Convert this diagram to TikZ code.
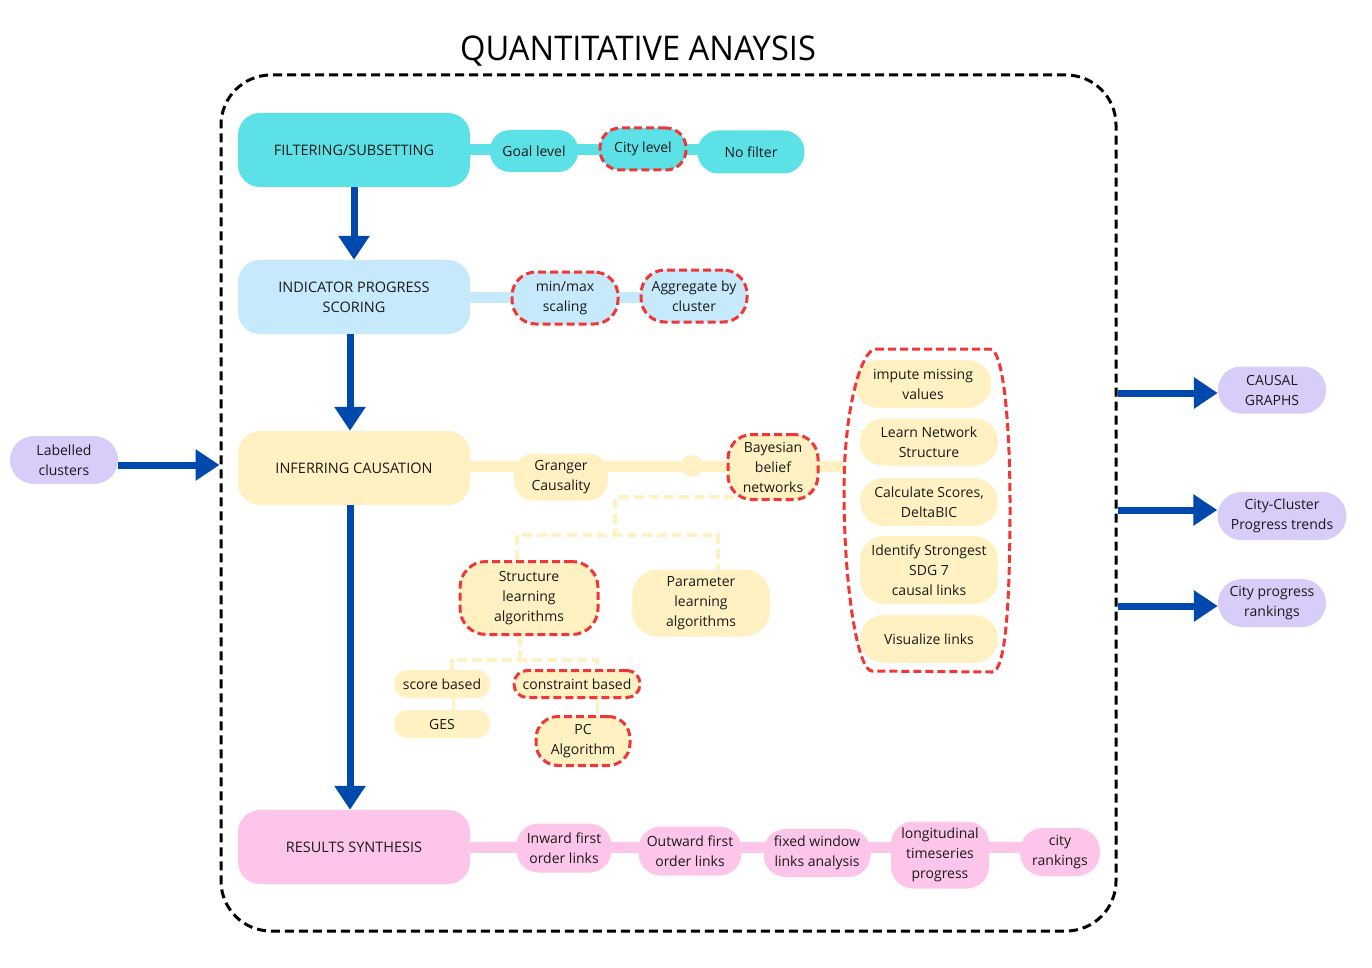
\documentclass[tikz,border=0pt]{standalone}
\usepackage{fontspec}
\setmainfont{Open Sans}
\usetikzlibrary{arrows.meta,backgrounds}
\definecolor{cyanc}{HTML}{5CE1E6}
\definecolor{lblue}{HTML}{C6E9FC}
\definecolor{yellowc}{HTML}{FFF1C1}
\definecolor{pinkc}{HTML}{FEC5EA}
\definecolor{purpc}{HTML}{D8CCF9}
\definecolor{arrblue}{HTML}{0049AC}
\definecolor{redd}{HTML}{F23636}
\definecolor{txt}{HTML}{1A1A1A}
\begin{document}
\begin{tikzpicture}[x=1pt,y=-1pt,
  box/.style={rounded corners=22pt, minimum width=232pt, minimum height=74pt, align=center,
    font=\fontsize{14.5}{20}\selectfont, inner sep=0pt, text=txt},
  pill/.style={rounded corners=20pt, align=center, inner sep=0pt, text=txt,
    font=\fontsize{14}{20}\selectfont},
  reddash/.style={draw=redd, line width=3pt, dash pattern=on 8pt off 4pt},
  band/.style={line width=11pt},
  bigarrow/.style={draw=arrblue, line width=7pt, -{Triangle[length=24pt,width=30pt]}},
  tree/.style={draw=yellowc, line width=3.5pt, dash pattern=on 10pt off 5pt},
  twig/.style={draw=yellowc, line width=3pt},
]
\useasboundingbox (0,0) rectangle (1372,968);

% title
\node[font=\fontsize{34}{38}\selectfont, text=black] (title) at (638,51) {\scalebox{0.96}[1]{QUANTITATIVE ANAYSIS}};

% frame
\node[draw=black, line width=3pt, dash pattern=on 9pt off 5pt, rounded corners=50pt,
  minimum width=895pt, minimum height=856pt, inner sep=0pt] (frame) at (668.5,503) {};

% row 1
\node[box, fill=cyanc] (filt) at (354,150) {FILTERING/SUBSETTING};
\node[pill, fill=cyanc, minimum width=88pt, minimum height=42pt] (goal) at (534,151) {Goal level};
\node[pill, fill=cyanc, reddash, minimum width=86pt, minimum height=42pt] (city) at (643,149) {City level};
\node[pill, fill=cyanc, minimum width=107pt, minimum height=43pt, rounded corners=21pt] (nof) at (751,152) {No filter};

% row 2
\node[box, fill=lblue] (ind) at (354,297) {INDICATOR PROGRESS\\SCORING};
\node[pill, fill=lblue, reddash, minimum width=106pt, minimum height=52pt, rounded corners=24pt] (minmax) at (565,298) {min/max\\scaling};
\node[pill, fill=lblue, reddash, minimum width=106pt, minimum height=52pt, rounded corners=24pt] (agg) at (694,296) {Aggregate by\\cluster};

% row 3
\node[box, fill=yellowc] (infer) at (354,468) {INFERRING CAUSATION};
\node[pill, fill=yellowc, minimum width=94pt, minimum height=47pt] (granger) at (561,477) {Granger\\Causality};
\node[circle, fill=yellowc, minimum size=22pt, inner sep=0pt] (dot) at (692,466) {};
\node[pill, fill=yellowc, reddash, minimum width=90pt, minimum height=65pt, rounded corners=24pt] (bayes) at (773,467) {Bayesian\\belief\\networks};

\node[pill, fill=yellowc, minimum width=137pt, minimum height=48pt, rounded corners=24pt] (imp) at (923,384) {impute missing\\values};
\node[pill, fill=yellowc, minimum width=138pt, minimum height=47pt, rounded corners=23pt] (learn) at (929,442) {Learn Network\\Structure};
\node[pill, fill=yellowc, minimum width=138pt, minimum height=48pt, rounded corners=24pt] (calc) at (929,502) {Calculate Scores,\\DeltaBIC};
\node[pill, fill=yellowc, minimum width=138pt, minimum height=68pt, rounded corners=24pt] (ident) at (929,570) {Identify Strongest\\SDG 7\\causal links};
\node[pill, fill=yellowc, minimum width=138pt, minimum height=48pt, rounded corners=24pt] (vis) at (929,639) {Visualize links};
% group outline (anchor node + curved dashed outline)
\node[minimum width=166pt, minimum height=323pt, inner sep=0pt] (grp) at (927,510) {};
\draw[reddash] (876,349) -- (990,349)
  .. controls (1003,349) and (1010,420) .. (1010,505)
  .. controls (1010,600) and (1006,672) .. (992,672)
  -- (872,671)
  .. controls (858,671) and (844,590) .. (844,490)
  .. controls (844,410) and (861,349) .. (876,349) -- cycle;

\node[pill, fill=yellowc, reddash, minimum width=138pt, minimum height=73pt, rounded corners=26pt] (struct) at (529,598) {Structure\\learning\\algorithms};
\node[pill, fill=yellowc, minimum width=138pt, minimum height=67pt, rounded corners=26pt] (param) at (701,603) {Parameter\\learning\\algorithms};
\node[pill, fill=yellowc, minimum width=96pt, minimum height=28pt, rounded corners=13pt] (score) at (442,684) {score based};
\node[pill, fill=yellowc, minimum width=96pt, minimum height=28pt, rounded corners=13pt] (ges) at (442,724) {GES};
\node[pill, fill=yellowc, reddash, minimum width=126pt, minimum height=27pt, rounded corners=13pt] (constr) at (577,684) {constraint based};
\node[pill, fill=yellowc, reddash, minimum width=94pt, minimum height=49pt, rounded corners=22pt] (pc) at (583,741) {PC\\Algorithm};

% row 4
\node[box, fill=pinkc] (res) at (354,847) {RESULTS SYNTHESIS};
\node[pill, fill=pinkc, minimum width=95pt, minimum height=49pt, rounded corners=22pt] (inw) at (564,848) {Inward first\\order links};
\node[pill, fill=pinkc, minimum width=103pt, minimum height=49pt, rounded corners=22pt] (outw) at (690,851) {Outward first\\order links};
\node[pill, fill=pinkc, minimum width=107pt, minimum height=48pt, rounded corners=22pt] (fixw) at (817,853) {fixed window\\links analysis};
\node[pill, fill=pinkc, minimum width=98pt, minimum height=67pt, rounded corners=22pt] (longi) at (940,855) {longitudinal\\timeseries\\progress};
\node[pill, fill=pinkc, minimum width=80pt, minimum height=48pt, rounded corners=23pt] (crank) at (1060,852) {city\\rankings};

% outside
\node[pill, fill=purpc, minimum width=108pt, minimum height=48pt, rounded corners=24pt] (lab) at (64,460) {Labelled\\clusters};
\node[pill, fill=purpc, minimum width=108pt, minimum height=47pt, rounded corners=23pt] (causal) at (1272,390) {CAUSAL\\GRAPHS};
\node[pill, fill=purpc, minimum width=129pt, minimum height=48pt, rounded corners=24pt] (ccp) at (1282,516) {City-Cluster\\Progress trends};
\node[pill, fill=purpc, minimum width=108pt, minimum height=48pt, rounded corners=24pt] (cpr) at (1272,603) {City progress\\rankings};

% background and bands (behind)
\begin{scope}[on background layer]
\fill[white] (0,0) rectangle (1372,968);
\draw[band, cyanc] (filt) -- (nof.center |- filt);
\draw[band, lblue] (ind.center) -- (agg.center |- ind);
\draw[band, yellowc] (infer.east |- dot) -- (grp.west |- dot);
\draw[band, pinkc] (res.center) -- (crank.center |- res);
\end{scope}

\coordinate (j1) at (615,535);
\coordinate (j2) at (520,660);
\draw[tree] ([xshift=7pt,yshift=4pt]bayes.south west) -| (j1);
\draw[tree] ([xshift=-12pt]struct.north) |- (j1) -| ([xshift=17pt]param.north);
\draw[tree] ([xshift=-9pt]struct.south) -- (j2);
\draw[tree] ([xshift=10pt]score.north) |- (j2) -| ([xshift=20pt]constr.north);
\draw[twig] ([xshift=11pt]score.south) -- ([xshift=11pt]ges.north);
\draw[twig] ([xshift=20pt]constr.south) -- ([xshift=20pt]constr.south |- pc.north);

% arrows
\draw[bigarrow] (filt.south) -- (ind.north);
\draw[bigarrow] ([xshift=-4pt]ind.south) -- ([xshift=-4pt]infer.north);
\draw[bigarrow] ([xshift=-4pt]infer.south) -- ([xshift=-4pt]res.north);
\draw[bigarrow] ([yshift=-5pt]lab.east) -- ([yshift=-5pt]frame.west |- lab.east);
\draw[bigarrow] ([yshift=-3pt]frame.east |- causal) -- ([yshift=-3pt]causal.west);
\draw[bigarrow] ([yshift=6pt]frame.east |- ccp) -- ([yshift=6pt]ccp.west);
\draw[bigarrow] ([yshift=-3pt]frame.east |- cpr) -- ([yshift=-3pt]cpr.west);
\end{tikzpicture}
\end{document}
